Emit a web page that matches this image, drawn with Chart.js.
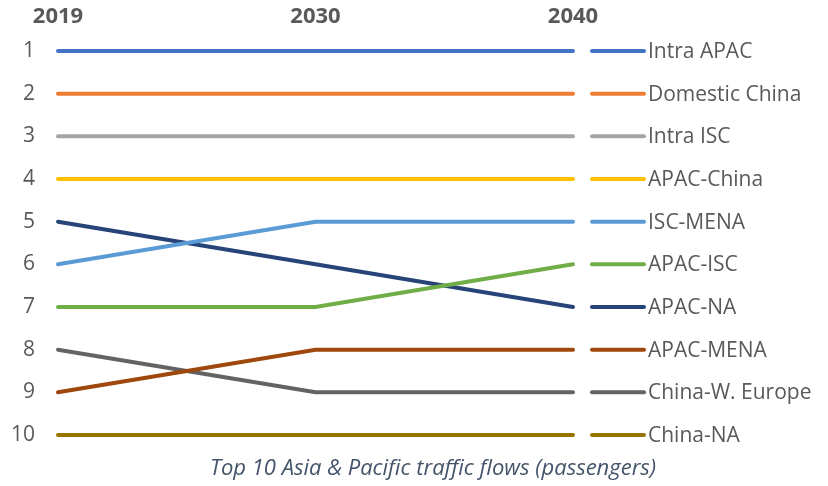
<!DOCTYPE html>
<html>
<head>
<meta charset="utf-8">
<script src="https://cdn.jsdelivr.net/npm/chart.js@4"></script>
<style>
  html, body { margin: 0; padding: 0; background: #fff; }
  #wrap { width: 828px; height: 486px; }
</style>
</head>
<body>
<div id="wrap"><canvas id="rankChart" width="828" height="486"></canvas></div>
<script>
"use strict";

// 排名資料：越小越前面
const years = ["2019", "2030", "2040"];
const flows = ["Intra APAC", "Domestic China", "Intra ISC", "APAC-China", "ISC-MENA",
               "APAC-ISC", "APAC-NA", "APAC-MENA", "China-W. Europe", "China-NA"];
const intraApac     = [1, 1, 1];
const domesticChina = [2, 2, 2];
const intraIsc      = [3, 3, 3];
const apacChina     = [4, 4, 4];
const iscMena       = [6, 5, 5];
const apacIsc       = [7, 7, 6];
const apacNa        = [5, 6, 7];
const apacMena      = [9, 8, 8];
const chinaWEurope  = [8, 9, 9];
const chinaNa       = [10, 10, 10];
const rankTicks     = [1, 2, 3, 4, 5, 6, 7, 8, 9, 10];
const caption = "Top 10 Asia & Pacific traffic flows (passengers)";

const series = [intraApac, domesticChina, intraIsc, apacChina, iscMena,
                apacIsc, apacNa, apacMena, chinaWEurope, chinaNa];
const colors = ["#4472C4", "#ED7D31", "#A5A5A5", "#FFC000", "#5B9BD5",
                "#70AD47", "#264478", "#9E480E", "#636363", "#997300"];

const FONT = "'Open Sans', 'Noto Sans', sans-serif";
const TEXT = "#595959";

// 右側圖例：每列對齊該序列最後一年的排名
const sideLegend = {
  id: "sideLegend",
  afterDraw(chart) {
    const { ctx, scales: { y }, chartArea } = chart;
    ctx.save();
    ctx.lineCap = "round";
    ctx.lineWidth = 4;
    ctx.font = "21px " + FONT;
    ctx.textBaseline = "middle";
    chart.data.datasets.forEach((ds) => {
      const py = y.getPixelForValue(ds.data[ds.data.length - 1]);
      ctx.strokeStyle = ds.borderColor;
      ctx.beginPath();
      ctx.moveTo(chartArea.right + 19, py);
      ctx.lineTo(chartArea.right + 71, py);
      ctx.stroke();
      ctx.fillStyle = TEXT;
      ctx.fillText(ds.label, chartArea.right + 75, py + 1);
    });
    // 圖說
    ctx.font = "italic 22px " + FONT;
    ctx.fillStyle = "#44546A";
    ctx.textAlign = "center";
    ctx.fillText(caption, 433, 469);
    ctx.restore();
  },
};

new Chart(document.getElementById("rankChart"), {
  type: "line",
  data: {
    labels: years,
    datasets: series.map((d, i) => ({
      label: flows[i],
      data: d,
      borderColor: colors[i],
      backgroundColor: colors[i],
      borderWidth: 4,
      borderCapStyle: "round",
      pointRadius: 0,
      tension: 0,
      clip: false,
    })),
  },
  options: {
    responsive: false,
    animation: false,
    layout: { padding: { left: 0, right: 255, top: 0, bottom: 51 } },
    plugins: { legend: { display: false }, tooltip: { enabled: false } },
    scales: {
      x: {
        position: "top",
        offset: false,
        grid: { display: false, drawTicks: false },
        border: { display: false },
        ticks: { color: TEXT, padding: 21, font: { family: FONT, size: 22, weight: "bold" } },
        afterFit: (s) => { s.height = 51; },
      },
      y: {
        reverse: true,
        min: 1,
        max: 10,
        grid: { display: false, drawTicks: false },
        border: { display: false },
        afterBuildTicks: (s) => { s.ticks = rankTicks.map((v) => ({ value: v })); },
        ticks: { color: TEXT, padding: 23, font: { family: FONT, size: 21 } },
        afterFit: (s) => { s.width = 58; },
      },
    },
  },
  plugins: [sideLegend],
});
</script>
</body>
</html>
